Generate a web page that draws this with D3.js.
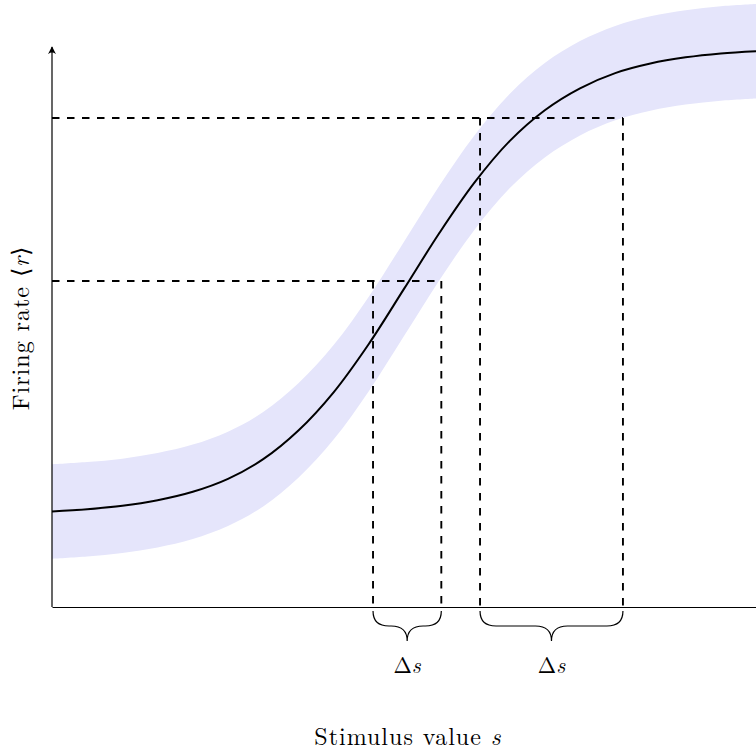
<!DOCTYPE html>
<html>
<head>
<meta charset="utf-8">
<script src="https://cdn.jsdelivr.net/npm/d3@7"></script>
<style>
  body { margin: 0; background: #fff; }
  svg { display: block; }
  text { font-family: "Latin Modern Roman", "Liberation Serif", serif; fill: #000; }
</style>
</head>
<body>
<svg id="chart" width="756" height="753"></svg>
<script>
// stimulus grid (s) and mean firing rate
const stimulus = [0, 0.5, 1, 1.5, 2, 2.5, 3, 3.5, 4, 4.5, 5, 5.5, 6, 6.5, 7, 7.5, 8, 8.5, 9, 9.5, 10];
const rate = [1.70, 1.74, 1.80, 1.90, 2.05, 2.28, 2.63, 3.14, 3.82, 4.68, 5.66, 6.65, 7.55, 8.29, 8.84, 9.23, 9.50, 9.67, 9.78, 9.85, 9.89];
const noise = 0.84; // half width of the shaded band

// two rate levels and the stimulus ranges they map back to
const rateLevels = [5.80, 8.70];
const stimRanges = [[4.56, 5.53], [6.08, 8.11]];
const rangeLabel = "Δ";

const svg = d3.select("#chart");
const width = 756;
const height = 753;
const margin = { top: 45, right: 0, bottom: 146, left: 52 };

const x = d3.scaleLinear().domain([0, 10]).range([margin.left, width - margin.right]);
const y = d3.scaleLinear().domain([0, 10]).range([height - margin.bottom, margin.top]);

const data = stimulus.map((s, i) => ({ s, r: rate[i] }));

// shaded band
const band = d3
  .area()
  .x((d) => x(d.s))
  .y0((d) => y(d.r - noise))
  .y1((d) => y(d.r + noise))
  .curve(d3.curveCatmullRom);

svg.append("path").datum(data).attr("fill", "#e5e5fb").attr("d", band);

// dashed guides
const guides = svg.append("g").attr("fill", "none").attr("stroke", "#000").attr("stroke-width", 1.9).attr("stroke-dasharray", "7.5,7.5");

rateLevels.forEach((lvl, i) => {
  const [s0, s1] = stimRanges[i];
  guides.append("line").attr("x1", x(0)).attr("x2", x(s1)).attr("y1", y(lvl)).attr("y2", y(lvl));
  guides.append("line").attr("x1", x(s0)).attr("x2", x(s0)).attr("y1", y(lvl)).attr("y2", y(0));
  guides.append("line").attr("x1", x(s1)).attr("x2", x(s1)).attr("y1", y(lvl)).attr("y2", y(0));
});

// tuning curve
const line = d3
  .line()
  .x((d) => x(d.s))
  .y((d) => y(d.r))
  .curve(d3.curveCatmullRom);

svg.append("path").datum(data).attr("fill", "none").attr("stroke", "#000").attr("stroke-width", 2).attr("d", line);

// axes
svg.append("defs")
  .append("marker")
  .attr("id", "arrow")
  .attr("viewBox", "0 0 10 10")
  .attr("refX", 9)
  .attr("refY", 5)
  .attr("markerWidth", 8)
  .attr("markerHeight", 8)
  .attr("markerUnits", "userSpaceOnUse")
  .attr("orient", "auto")
  .append("path")
  .attr("d", "M0,0 Q4,5 0,10 L10,5 Z")
  .attr("fill", "#000");

const xAxis = svg
  .append("g")
  .attr("transform", `translate(0,${y(0)})`)
  .call(d3.axisBottom(x).tickValues([]).tickSizeOuter(0));
xAxis.select(".domain").attr("stroke-width", 1.2);

const yAxis = svg
  .append("g")
  .attr("transform", `translate(${x(0)},0)`)
  .call(d3.axisLeft(y).tickValues([]).tickSizeOuter(0));
yAxis.select(".domain").remove();
yAxis
  .append("line")
  .attr("x1", 0)
  .attr("x2", 0)
  .attr("y1", y(0))
  .attr("y2", y(10) + 2)
  .attr("stroke", "#000")
  .attr("stroke-width", 1.2)
  .attr("marker-end", "url(#arrow)");

// braces under the axis
const brace = (x0, x1, top) => {
  const c = (x0 + x1) / 2;
  const mid = top + 15;
  const tip = top + 30;
  const a = 16;
  return `M${x0},${top} Q${x0},${mid} ${x0 + a},${mid} L${c - a},${mid} Q${c},${mid} ${c},${tip} ` +
    `Q${c},${mid} ${c + a},${mid} L${x1 - a},${mid} Q${x1},${mid} ${x1},${top}`;
};

stimRanges.forEach(([s0, s1]) => {
  svg
    .append("path")
    .attr("d", brace(x(s0), x(s1), y(0) + 4))
    .attr("fill", "none")
    .attr("stroke", "#000")
    .attr("stroke-width", 1.2);

  const t = svg
    .append("text")
    .attr("x", x((s0 + s1) / 2))
    .attr("y", y(0) + 66)
    .attr("text-anchor", "middle")
    .attr("font-size", 22);
  t.append("tspan").text(rangeLabel);
  t.append("tspan").attr("font-style", "italic").text("s");
});

// axis titles
const xt = svg
  .append("text")
  .attr("x", x(5) + 4)
  .attr("y", 745)
  .attr("text-anchor", "middle")
  .attr("font-size", 24)
  .attr("letter-spacing", 1);
xt.append("tspan").text("Stimulus value ");
xt.append("tspan").attr("font-style", "italic").text("s");

const yt = svg
  .append("text")
  .attr("transform", `translate(29,${y(5) + 2}) rotate(-90)`)
  .attr("text-anchor", "middle")
  .attr("font-size", 24)
  .attr("letter-spacing", 1);
yt.append("tspan").text("Firing rate ⟨");
yt.append("tspan").attr("font-style", "italic").text("r");
yt.append("tspan").text("⟩");
</script>
</body>
</html>
